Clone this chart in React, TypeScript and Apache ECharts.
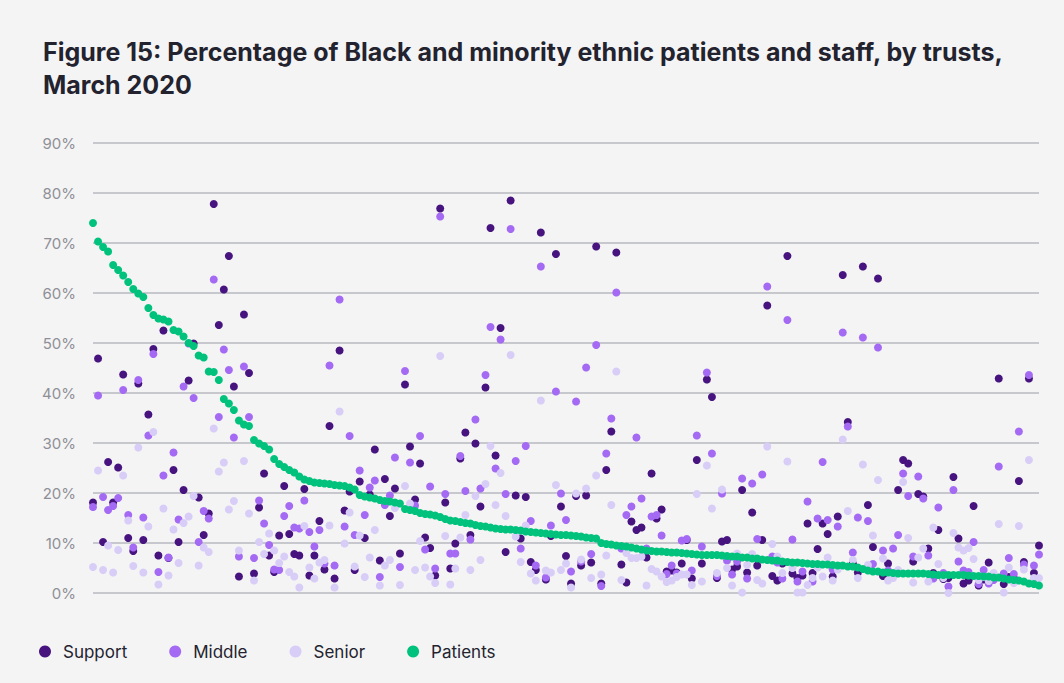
import React, { useEffect, useRef } from "react";
import * as echarts from "echarts";

// Share of Black and minority ethnic patients, by trust (sorted)
const patients = [
  74.0, 70.3, 69.2, 68.3, 65.6, 64.6, 63.5, 62.2, 60.8, 59.9,
  59.2, 57.0, 55.6, 54.9, 54.7, 54.3, 52.6, 52.3, 51.3, 50.0,
  49.4, 47.5, 47.1, 44.3, 44.2, 42.6, 38.8, 37.9, 36.6, 34.5,
  33.7, 33.4, 30.6, 29.9, 29.4, 28.7, 26.8, 25.8, 25.2, 24.6,
  24.1, 23.3, 22.7, 22.4, 22.1, 22.0, 21.9, 21.8, 21.6, 21.5,
  21.4, 21.1, 20.7, 19.6, 19.3, 19.1, 18.9, 18.6, 18.4, 18.3,
  18.1, 17.9, 16.8, 16.6, 16.4, 16.0, 15.8, 15.7, 15.5, 15.2,
  14.8, 14.5, 14.4, 14.2, 14.0, 13.9, 13.6, 13.4, 13.3, 13.1,
  12.9, 12.8, 12.7, 12.7, 12.6, 12.5, 12.3, 12.2, 12.1, 12.0,
  11.9, 11.8, 11.7, 11.6, 11.6, 11.5, 11.4, 11.3, 11.1, 11.0,
  10.9, 10.0, 9.8, 9.7, 9.5, 9.4, 9.3, 9.1, 8.9, 8.7,
  8.5, 8.4, 8.3, 8.3, 8.2, 8.1, 8.1, 8.0, 7.9, 7.8,
  7.7, 7.6, 7.6, 7.6, 7.6, 7.5, 7.4, 7.3, 7.3, 7.1,
  7.1, 6.9, 6.9, 6.7, 6.6, 6.5, 6.5, 6.3, 6.2, 6.1,
  6.1, 6.0, 5.9, 5.8, 5.8, 5.7, 5.7, 5.6, 5.5, 5.5,
  5.3, 5.3, 5.1, 4.8, 4.5, 4.3, 4.3, 4.1, 4.1, 4.0,
  3.9, 3.9, 3.9, 3.9, 3.9, 3.9, 3.8, 3.7, 3.6, 3.6,
  3.6, 3.6, 3.6, 3.6, 3.5, 3.4, 3.4, 3.3, 3.3, 3.1,
  3.1, 2.9, 2.7, 2.6, 2.5, 2.3, 1.9, 1.8, 1.5,
];

const support = [
  18.1, 46.9, 10.2, 26.2, 18.1, 25.1, 43.7, 11.0, 8.4, 41.9,
  10.6, 35.7, 48.8, 7.5, 52.5, 7.0, 24.6, 10.2, 20.6, 42.5,
  49.9, 19.1, 11.6, 15.9, 77.8, 53.6, 60.7, 67.4, 41.3, 3.3,
  55.7, 44.0, 3.9, 17.1, 23.9, 7.5, 4.2, 11.5, 21.4, 11.8,
  7.8, 7.5, 20.8, 3.5, 7.5, 14.4, 4.7, 33.4, 2.9, 48.5,
  16.5, 20.3, 4.6, 22.3, 11.0, 19.7, 28.7, 6.5, 22.8, 15.4,
  20.9, 7.9, 41.7, 29.3, 18.7, 25.9, 11.1, 9.0, 3.5, 76.9,
  18.1, 4.9, 9.9, 26.9, 32.1, 11.6, 29.9, 17.3, 41.1, 73.0,
  27.5, 53.0, 8.2, 78.5, 19.5, 10.9, 19.2, 6.2, 4.6, 72.1,
  2.7, 11.4, 67.8, 17.3, 7.4, 1.9, 19.4, 5.5, 19.5, 6.1,
  69.3, 1.9, 24.6, 32.3, 68.1, 5.7, 2.1, 14.3, 12.6, 13.1,
  7.1, 23.9, 14.9, 16.7, 4.3, 4.5, 4.1, 5.9, 10.6, 2.9,
  26.6, 5.9, 42.7, 39.2, 3.0, 10.3, 10.6, 4.7, 5.3, 20.6,
  4.1, 16.1, 5.5, 10.6, 57.5, 3.4, 2.5, 5.9, 67.4, 3.9,
  3.0, 3.5, 13.9, 4.0, 8.8, 13.9, 11.8, 3.3, 15.3, 63.6,
  34.2, 5.9, 4.1, 65.3, 17.6, 9.2, 62.9, 3.4, 5.9, 3.8,
  20.6, 26.6, 25.9, 6.3, 19.8, 19.3, 8.9, 4.0, 12.6, 2.8,
  3.0, 23.2, 10.9, 1.9, 2.5, 17.4, 1.5, 2.7, 6.1, 3.3,
  42.9, 1.8, 3.2, 3.0, 22.4, 6.2, 42.9, 4.0, 9.5,
];

const middle = [
  17.2, 39.5, 19.2, 16.6, 17.4, 19.0, 40.6, 15.6, 9.1, 42.6,
  15.1, 31.5, 47.8, 4.2, 23.5, 7.1, 28.1, 14.7, 41.3, 49.9,
  39.0, 10.2, 16.4, 14.9, 62.7, 35.2, 48.7, 44.6, 31.1, 7.3,
  45.3, 35.2, 7.0, 18.5, 13.9, 9.6, 4.7, 4.6, 15.4, 17.4,
  13.1, 12.9, 18.5, 12.2, 9.3, 12.6, 5.9, 45.5, 5.5, 58.7,
  13.3, 31.4, 11.6, 24.5, 15.6, 21.1, 22.5, 3.2, 17.6, 19.5,
  27.1, 5.2, 44.4, 26.1, 17.5, 31.4, 8.7, 21.3, 4.9, 75.3,
  19.8, 7.9, 7.9, 27.4, 20.4, 10.7, 34.7, 20.9, 43.6, 53.2,
  24.9, 50.7, 19.8, 72.8, 26.4, 8.9, 29.4, 14.4, 5.5, 65.3,
  3.1, 13.5, 40.3, 19.9, 14.6, 4.3, 38.3, 6.3, 45.1, 7.8,
  49.6, 1.4, 27.9, 34.9, 60.1, 8.9, 15.6, 17.3, 31.1, 18.9,
  8.9, 15.3, 15.6, 11.5, 3.8, 5.5, 3.9, 10.5, 10.8, 4.5,
  31.5, 9.3, 44.1, 27.9, 3.4, 19.9, 6.5, 3.7, 6.3, 22.9,
  2.9, 21.9, 10.8, 23.7, 61.3, 7.3, 6.1, 2.9, 54.6, 10.7,
  2.3, 4.3, 18.3, 2.3, 14.9, 26.2, 14.6, 4.7, 13.3, 52.1,
  33.3, 8.1, 15.1, 51.1, 14.4, 5.8, 49.1, 8.5, 4.5, 8.9,
  11.6, 23.9, 19.4, 7.3, 23.3, 18.9, 7.5, 2.9, 17.1, 4.0,
  1.3, 20.6, 6.3, 4.5, 4.2, 10.2, 1.8, 4.6, 1.9, 2.6,
  25.3, 3.9, 7.0, 3.8, 32.3, 5.7, 43.6, 5.5, 7.7,
];

const senior = [
  5.2, 24.5, 4.6, 9.5, 4.1, 8.6, 23.5, 14.5, 5.4, 29.1,
  4.1, 13.3, 32.2, 1.7, 16.9, 3.5, 12.7, 6.0, 14.0, 15.3,
  19.4, 5.5, 9.1, 8.2, 32.9, 24.3, 26.1, 16.7, 18.4, 8.5,
  26.4, 15.9, 2.5, 10.2, 7.8, 11.9, 8.5, 6.0, 7.3, 4.2,
  3.3, 1.1, 13.4, 5.1, 2.9, 6.1, 6.6, 13.5, 1.1, 36.3,
  9.9, 16.1, 5.3, 11.5, 3.2, 7.1, 12.6, 1.5, 5.5, 6.6,
  17.0, 1.6, 21.4, 17.9, 4.6, 10.4, 5.1, 3.3, 2.0, 47.4,
  11.4, 1.7, 4.9, 11.1, 15.6, 4.6, 19.4, 6.6, 21.8, 29.4,
  17.6, 24.0, 15.4, 47.6, 11.3, 6.2, 13.5, 3.9, 2.5, 38.5,
  4.5, 4.1, 21.6, 4.6, 5.9, 1.1, 19.9, 6.7, 20.9, 3.0,
  23.5, 3.7, 7.5, 17.6, 44.3, 2.6, 8.0, 7.0, 7.0, 7.3,
  1.5, 4.8, 4.3, 3.3, 2.2, 2.5, 3.2, 3.7, 3.7, 1.6,
  19.8, 2.3, 25.5, 16.9, 4.0, 20.7, 5.0, 1.5, 7.9, 0.1,
  5.6, 7.8, 2.6, 1.9, 29.3, 9.8, 7.3, 4.0, 26.3, 5.0,
  0.1, 0.1, 1.6, 3.0, 5.1, 3.3, 7.1, 2.5, 4.7, 30.7,
  16.4, 6.6, 3.0, 25.7, 5.6, 11.5, 22.6, 6.9, 2.5, 3.0,
  4.6, 22.2, 11.0, 2.1, 7.1, 8.9, 2.3, 13.1, 5.8, 3.0,
  0.0, 12.0, 9.1, 8.5, 9.0, 6.8, 2.6, 3.2, 2.4, 4.0,
  13.8, 0.1, 5.1, 2.0, 13.4, 4.7, 26.6, 3.0, 3.0,
];

const trusts = patients.map((_, i) => `Trust ${i + 1}`);
const seriesNames = ["Support", "Middle", "Senior", "Patients"];
const seriesColors = ["#46137f", "#a46af3", "#d8cdf7", "#00c27c"];
const seriesValues = [support, middle, senior, patients];

export default function App() {
  const ref = useRef<HTMLDivElement>(null);
  useEffect(() => {
    document.body.style.margin = "0";
    const chart = echarts.init(ref.current!, null, { renderer: "svg" });
    chart.setOption({
      animation: false,
      backgroundColor: "#f4f4f4",
      textStyle: { fontFamily: "Inter" },
      title: {
        text: "Figure 15: Percentage of Black and minority ethnic patients and staff, by trusts,\nMarch 2020",
        left: 38,
        top: 30,
        textStyle: {
          fontFamily: "Inter",
          fontWeight: "bold",
          fontSize: 25,
          lineHeight: 33,
          color: "#23232f",
        },
      },
      grid: { left: 93, right: 25, top: 143, bottom: 90 },
      xAxis: {
        type: "category",
        data: trusts,
        boundaryGap: false,
        axisLine: { show: false },
        axisTick: { show: false },
        axisLabel: { show: false },
        splitLine: { show: false },
      },
      yAxis: {
        type: "value",
        min: 0,
        max: 90,
        interval: 10,
        axisLine: { show: false },
        axisTick: { show: false },
        axisLabel: {
          formatter: "{value}%",
          color: "#8f8f97",
          fontSize: 15,
          margin: 17,
          fontFamily: "Inter",
        },
        splitLine: { lineStyle: { color: "#b9b9c2", width: 1.5 } },
      },
      legend: {
        left: 34,
        top: 638,
        icon: "circle",
        itemWidth: 26,
        itemHeight: 12,
        itemGap: 42,
        textStyle: { fontSize: 17, color: "#23232f", fontFamily: "Inter" },
        data: seriesNames,
      },
      series: seriesNames.map((name, k) => ({
        name,
        type: "scatter",
        data: seriesValues[k],
        symbolSize: 8,
        itemStyle: { color: seriesColors[k], opacity: 1 },
        emphasis: { disabled: true },
      })),
    });
    return () => chart.dispose();
  }, []);
  return <div ref={ref} style={{ width: 1064, height: 683 }} />;
}
